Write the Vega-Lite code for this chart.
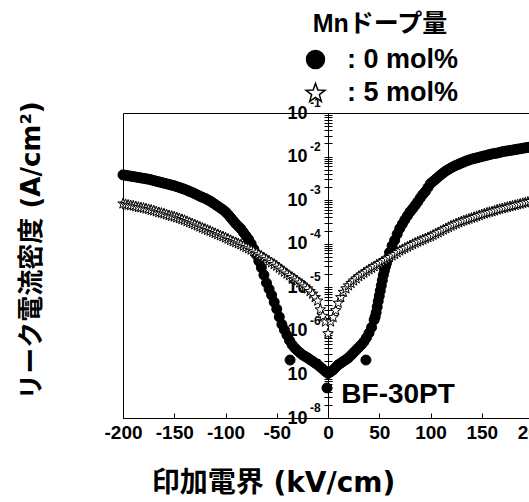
{
  "$schema": "https://vega.github.io/schema/vega-lite/v6.json",
  "width": 410,
  "height": 305,
  "autosize": "none",
  "padding": {"left": 123, "top": 113, "right": 0, "bottom": 84},
  "background": "white",
  "config": {"view": {"stroke": "black", "strokeWidth": 1}},
  "datasets": {
    "curves": [
      {"E": -200, "J": 3.80e-3, "dope": "0 mol%"}, {"E": -197.5, "J": 3.72e-3, "dope": "0 mol%"}, {"E": -195, "J": 3.63e-3, "dope": "0 mol%"}, {"E": -192.5, "J": 3.55e-3, "dope": "0 mol%"}, {"E": -190, "J": 3.47e-3, "dope": "0 mol%"}, {"E": -187.5, "J": 3.39e-3, "dope": "0 mol%"}, {"E": -185, "J": 3.31e-3, "dope": "0 mol%"}, {"E": -182.5, "J": 3.24e-3, "dope": "0 mol%"}, {"E": -180, "J": 3.16e-3, "dope": "0 mol%"}, {"E": -177.5, "J": 3.09e-3, "dope": "0 mol%"}, {"E": -175, "J": 3.02e-3, "dope": "0 mol%"}, {"E": -172.5, "J": 2.92e-3, "dope": "0 mol%"}, {"E": -170, "J": 2.82e-3, "dope": "0 mol%"}, {"E": -167.5, "J": 2.72e-3, "dope": "0 mol%"}, {"E": -165, "J": 2.63e-3, "dope": "0 mol%"}, {"E": -162.5, "J": 2.54e-3, "dope": "0 mol%"}, {"E": -160, "J": 2.45e-3, "dope": "0 mol%"}, {"E": -157.5, "J": 2.37e-3, "dope": "0 mol%"}, {"E": -155, "J": 2.29e-3, "dope": "0 mol%"}, {"E": -152.5, "J": 2.21e-3, "dope": "0 mol%"}, {"E": -150, "J": 2.14e-3, "dope": "0 mol%"}, {"E": -147.5, "J": 2.04e-3, "dope": "0 mol%"}, {"E": -145, "J": 1.95e-3, "dope": "0 mol%"}, {"E": -142.5, "J": 1.86e-3, "dope": "0 mol%"}, {"E": -140, "J": 1.78e-3, "dope": "0 mol%"}, {"E": -137.5, "J": 1.68e-3, "dope": "0 mol%"}, {"E": -135, "J": 1.58e-3, "dope": "0 mol%"}, {"E": -132.5, "J": 1.50e-3, "dope": "0 mol%"}, {"E": -130, "J": 1.41e-3, "dope": "0 mol%"}, {"E": -127.5, "J": 1.32e-3, "dope": "0 mol%"}, {"E": -125, "J": 1.23e-3, "dope": "0 mol%"}, {"E": -122.5, "J": 1.16e-3, "dope": "0 mol%"}, {"E": -120, "J": 1.10e-3, "dope": "0 mol%"}, {"E": -117.5, "J": 1.02e-3, "dope": "0 mol%"}, {"E": -115, "J": 9.55e-4, "dope": "0 mol%"}, {"E": -112.5, "J": 8.71e-4, "dope": "0 mol%"}, {"E": -110, "J": 7.94e-4, "dope": "0 mol%"}, {"E": -107.5, "J": 7.24e-4, "dope": "0 mol%"}, {"E": -105, "J": 6.61e-4, "dope": "0 mol%"}, {"E": -102.5, "J": 6.03e-4, "dope": "0 mol%"}, {"E": -100, "J": 5.37e-4, "dope": "0 mol%"}, {"E": -97.5, "J": 4.68e-4, "dope": "0 mol%"}, {"E": -95, "J": 3.98e-4, "dope": "0 mol%"}, {"E": -92.5, "J": 3.39e-4, "dope": "0 mol%"}, {"E": -90, "J": 2.88e-4, "dope": "0 mol%"}, {"E": -87.5, "J": 2.51e-4, "dope": "0 mol%"}, {"E": -85, "J": 2.19e-4, "dope": "0 mol%"}, {"E": -82.5, "J": 1.82e-4, "dope": "0 mol%"}, {"E": -80, "J": 1.51e-4, "dope": "0 mol%"}, {"E": -77.5, "J": 1.26e-4, "dope": "0 mol%"}, {"E": -75, "J": 1.00e-4, "dope": "0 mol%"}, {"E": -72.5, "J": 7.59e-5, "dope": "0 mol%"}, {"E": -70, "J": 5.62e-5, "dope": "0 mol%"}, {"E": -67.5, "J": 3.98e-5, "dope": "0 mol%"}, {"E": -65, "J": 2.82e-5, "dope": "0 mol%"}, {"E": -62.5, "J": 1.91e-5, "dope": "0 mol%"}, {"E": -60, "J": 1.26e-5, "dope": "0 mol%"}, {"E": -57.5, "J": 9.12e-6, "dope": "0 mol%"}, {"E": -55, "J": 6.61e-6, "dope": "0 mol%"}, {"E": -52.5, "J": 4.57e-6, "dope": "0 mol%"}, {"E": -50, "J": 3.16e-6, "dope": "0 mol%"}, {"E": -47.5, "J": 2.09e-6, "dope": "0 mol%"}, {"E": -45, "J": 1.41e-6, "dope": "0 mol%"}, {"E": -42.5, "J": 1.05e-6, "dope": "0 mol%"}, {"E": -40, "J": 7.94e-7, "dope": "0 mol%"}, {"E": -37.5, "J": 6.03e-7, "dope": "0 mol%"}, {"E": -35, "J": 4.79e-7, "dope": "0 mol%"}, {"E": -32.5, "J": 4.07e-7, "dope": "0 mol%"}, {"E": -30, "J": 3.55e-7, "dope": "0 mol%"}, {"E": -27.5, "J": 3.16e-7, "dope": "0 mol%"}, {"E": -25, "J": 2.82e-7, "dope": "0 mol%"}, {"E": -22.5, "J": 2.60e-7, "dope": "0 mol%"}, {"E": -20, "J": 2.40e-7, "dope": "0 mol%"}, {"E": -17.5, "J": 2.19e-7, "dope": "0 mol%"}, {"E": -15, "J": 2.00e-7, "dope": "0 mol%"}, {"E": -12.5, "J": 1.82e-7, "dope": "0 mol%"}, {"E": -10, "J": 1.66e-7, "dope": "0 mol%"}, {"E": -7.5, "J": 1.48e-7, "dope": "0 mol%"}, {"E": -5, "J": 1.32e-7, "dope": "0 mol%"}, {"E": -2.5, "J": 1.17e-7, "dope": "0 mol%"}, {"E": 0, "J": 1.05e-7, "dope": "0 mol%"}, {"E": 2.5, "J": 1.15e-7, "dope": "0 mol%"}, {"E": 5, "J": 1.26e-7, "dope": "0 mol%"}, {"E": 7.5, "J": 1.45e-7, "dope": "0 mol%"}, {"E": 10, "J": 1.66e-7, "dope": "0 mol%"}, {"E": 12.5, "J": 1.82e-7, "dope": "0 mol%"}, {"E": 15, "J": 2.00e-7, "dope": "0 mol%"}, {"E": 17.5, "J": 2.19e-7, "dope": "0 mol%"}, {"E": 20, "J": 2.40e-7, "dope": "0 mol%"}, {"E": 22.5, "J": 2.75e-7, "dope": "0 mol%"}, {"E": 25, "J": 3.16e-7, "dope": "0 mol%"}, {"E": 27.5, "J": 3.63e-7, "dope": "0 mol%"}, {"E": 30, "J": 4.17e-7, "dope": "0 mol%"}, {"E": 32.5, "J": 4.79e-7, "dope": "0 mol%"}, {"E": 35, "J": 5.62e-7, "dope": "0 mol%"}, {"E": 37.5, "J": 6.92e-7, "dope": "0 mol%"}, {"E": 40, "J": 8.91e-7, "dope": "0 mol%"}, {"E": 42.5, "J": 1.20e-6, "dope": "0 mol%"}, {"E": 45, "J": 1.78e-6, "dope": "0 mol%"}, {"E": 46, "J": 2.09e-6, "dope": "0 mol%"}, {"E": 47, "J": 2.63e-6, "dope": "0 mol%"}, {"E": 48, "J": 3.55e-6, "dope": "0 mol%"}, {"E": 49, "J": 4.79e-6, "dope": "0 mol%"}, {"E": 50, "J": 6.31e-6, "dope": "0 mol%"}, {"E": 51, "J": 8.32e-6, "dope": "0 mol%"}, {"E": 52, "J": 1.10e-5, "dope": "0 mol%"}, {"E": 53, "J": 1.45e-5, "dope": "0 mol%"}, {"E": 54, "J": 1.91e-5, "dope": "0 mol%"}, {"E": 55, "J": 2.40e-5, "dope": "0 mol%"}, {"E": 56, "J": 2.95e-5, "dope": "0 mol%"}, {"E": 57, "J": 3.55e-5, "dope": "0 mol%"}, {"E": 58, "J": 4.37e-5, "dope": "0 mol%"}, {"E": 60, "J": 6.31e-5, "dope": "0 mol%"}, {"E": 62.5, "J": 8.91e-5, "dope": "0 mol%"}, {"E": 65, "J": 1.20e-4, "dope": "0 mol%"}, {"E": 67.5, "J": 1.66e-4, "dope": "0 mol%"}, {"E": 70, "J": 2.24e-4, "dope": "0 mol%"}, {"E": 72.5, "J": 2.82e-4, "dope": "0 mol%"}, {"E": 75, "J": 3.55e-4, "dope": "0 mol%"}, {"E": 77.5, "J": 4.37e-4, "dope": "0 mol%"}, {"E": 80, "J": 5.37e-4, "dope": "0 mol%"}, {"E": 82.5, "J": 6.31e-4, "dope": "0 mol%"}, {"E": 85, "J": 7.59e-4, "dope": "0 mol%"}, {"E": 87.5, "J": 9.12e-4, "dope": "0 mol%"}, {"E": 90, "J": 1.12e-3, "dope": "0 mol%"}, {"E": 92.5, "J": 1.35e-3, "dope": "0 mol%"}, {"E": 95, "J": 1.58e-3, "dope": "0 mol%"}, {"E": 97.5, "J": 1.95e-3, "dope": "0 mol%"}, {"E": 100, "J": 2.40e-3, "dope": "0 mol%"}, {"E": 102.5, "J": 2.69e-3, "dope": "0 mol%"}, {"E": 105, "J": 3.02e-3, "dope": "0 mol%"}, {"E": 107.5, "J": 3.39e-3, "dope": "0 mol%"}, {"E": 110, "J": 3.80e-3, "dope": "0 mol%"}, {"E": 112.5, "J": 4.22e-3, "dope": "0 mol%"}, {"E": 115, "J": 4.68e-3, "dope": "0 mol%"}, {"E": 117.5, "J": 5.07e-3, "dope": "0 mol%"}, {"E": 120, "J": 5.50e-3, "dope": "0 mol%"}, {"E": 122.5, "J": 5.89e-3, "dope": "0 mol%"}, {"E": 125, "J": 6.31e-3, "dope": "0 mol%"}, {"E": 127.5, "J": 6.68e-3, "dope": "0 mol%"}, {"E": 130, "J": 7.08e-3, "dope": "0 mol%"}, {"E": 132.5, "J": 7.50e-3, "dope": "0 mol%"}, {"E": 135, "J": 7.94e-3, "dope": "0 mol%"}, {"E": 137.5, "J": 8.32e-3, "dope": "0 mol%"}, {"E": 140, "J": 8.71e-3, "dope": "0 mol%"}, {"E": 142.5, "J": 9.02e-3, "dope": "0 mol%"}, {"E": 145, "J": 9.33e-3, "dope": "0 mol%"}, {"E": 147.5, "J": 9.66e-3, "dope": "0 mol%"}, {"E": 150, "J": 1.00e-2, "dope": "0 mol%"}, {"E": 152.5, "J": 1.035e-2, "dope": "0 mol%"}, {"E": 155, "J": 1.07e-2, "dope": "0 mol%"}, {"E": 157.5, "J": 1.11e-2, "dope": "0 mol%"}, {"E": 160, "J": 1.15e-2, "dope": "0 mol%"}, {"E": 162.5, "J": 1.175e-2, "dope": "0 mol%"}, {"E": 165, "J": 1.20e-2, "dope": "0 mol%"}, {"E": 167.5, "J": 1.245e-2, "dope": "0 mol%"}, {"E": 170, "J": 1.29e-2, "dope": "0 mol%"}, {"E": 172.5, "J": 1.32e-2, "dope": "0 mol%"}, {"E": 175, "J": 1.35e-2, "dope": "0 mol%"}, {"E": 177.5, "J": 1.38e-2, "dope": "0 mol%"}, {"E": 180, "J": 1.41e-2, "dope": "0 mol%"}, {"E": 182.5, "J": 1.445e-2, "dope": "0 mol%"}, {"E": 185, "J": 1.48e-2, "dope": "0 mol%"}, {"E": 187.5, "J": 1.51e-2, "dope": "0 mol%"}, {"E": 190, "J": 1.55e-2, "dope": "0 mol%"}, {"E": 192.5, "J": 1.585e-2, "dope": "0 mol%"}, {"E": 195, "J": 1.62e-2, "dope": "0 mol%"}, {"E": 197.5, "J": 1.66e-2, "dope": "0 mol%"}, {"E": 200, "J": 1.70e-2, "dope": "0 mol%"},
      {"E": -37, "J": 2.14e-7, "dope": "0 mol%"}, {"E": 37, "J": 2.14e-7, "dope": "0 mol%"}, {"E": -1, "J": 4.9e-8, "dope": "0 mol%"},
      {"E": -200, "J": 8.51e-4, "dope": "5 mol%"}, {"E": -197.5, "J": 8.22e-4, "dope": "5 mol%"}, {"E": -195, "J": 7.94e-4, "dope": "5 mol%"}, {"E": -192.5, "J": 7.76e-4, "dope": "5 mol%"}, {"E": -190, "J": 7.59e-4, "dope": "5 mol%"}, {"E": -187.5, "J": 7.33e-4, "dope": "5 mol%"}, {"E": -185, "J": 7.08e-4, "dope": "5 mol%"}, {"E": -182.5, "J": 6.92e-4, "dope": "5 mol%"}, {"E": -180, "J": 6.76e-4, "dope": "5 mol%"}, {"E": -177.5, "J": 6.53e-4, "dope": "5 mol%"}, {"E": -175, "J": 6.31e-4, "dope": "5 mol%"}, {"E": -172.5, "J": 6.10e-4, "dope": "5 mol%"}, {"E": -170, "J": 5.89e-4, "dope": "5 mol%"}, {"E": -167.5, "J": 5.62e-4, "dope": "5 mol%"}, {"E": -165, "J": 5.37e-4, "dope": "5 mol%"}, {"E": -162.5, "J": 5.19e-4, "dope": "5 mol%"}, {"E": -160, "J": 5.01e-4, "dope": "5 mol%"}, {"E": -157.5, "J": 4.79e-4, "dope": "5 mol%"}, {"E": -155, "J": 4.57e-4, "dope": "5 mol%"}, {"E": -152.5, "J": 4.42e-4, "dope": "5 mol%"}, {"E": -150, "J": 4.27e-4, "dope": "5 mol%"}, {"E": -147.5, "J": 4.07e-4, "dope": "5 mol%"}, {"E": -145, "J": 3.89e-4, "dope": "5 mol%"}, {"E": -142.5, "J": 3.72e-4, "dope": "5 mol%"}, {"E": -140, "J": 3.55e-4, "dope": "5 mol%"}, {"E": -137.5, "J": 3.35e-4, "dope": "5 mol%"}, {"E": -135, "J": 3.16e-4, "dope": "5 mol%"}, {"E": -132.5, "J": 2.99e-4, "dope": "5 mol%"}, {"E": -130, "J": 2.82e-4, "dope": "5 mol%"}, {"E": -127.5, "J": 2.66e-4, "dope": "5 mol%"}, {"E": -125, "J": 2.51e-4, "dope": "5 mol%"}, {"E": -122.5, "J": 2.37e-4, "dope": "5 mol%"}, {"E": -120, "J": 2.24e-4, "dope": "5 mol%"}, {"E": -117.5, "J": 2.11e-4, "dope": "5 mol%"}, {"E": -115, "J": 2.00e-4, "dope": "5 mol%"}, {"E": -112.5, "J": 1.88e-4, "dope": "5 mol%"}, {"E": -110, "J": 1.78e-4, "dope": "5 mol%"}, {"E": -107.5, "J": 1.68e-4, "dope": "5 mol%"}, {"E": -105, "J": 1.58e-4, "dope": "5 mol%"}, {"E": -102.5, "J": 1.50e-4, "dope": "5 mol%"}, {"E": -100, "J": 1.41e-4, "dope": "5 mol%"}, {"E": -97.5, "J": 1.32e-4, "dope": "5 mol%"}, {"E": -95, "J": 1.23e-4, "dope": "5 mol%"}, {"E": -92.5, "J": 1.16e-4, "dope": "5 mol%"}, {"E": -90, "J": 1.10e-4, "dope": "5 mol%"}, {"E": -87.5, "J": 1.035e-4, "dope": "5 mol%"}, {"E": -85, "J": 9.77e-5, "dope": "5 mol%"}, {"E": -82.5, "J": 9.12e-5, "dope": "5 mol%"}, {"E": -80, "J": 8.51e-5, "dope": "5 mol%"}, {"E": -77.5, "J": 7.94e-5, "dope": "5 mol%"}, {"E": -75, "J": 7.41e-5, "dope": "5 mol%"}, {"E": -72.5, "J": 6.84e-5, "dope": "5 mol%"}, {"E": -70, "J": 6.31e-5, "dope": "5 mol%"}, {"E": -67.5, "J": 5.82e-5, "dope": "5 mol%"}, {"E": -65, "J": 5.37e-5, "dope": "5 mol%"}, {"E": -62.5, "J": 4.90e-5, "dope": "5 mol%"}, {"E": -60, "J": 4.47e-5, "dope": "5 mol%"}, {"E": -57.5, "J": 4.12e-5, "dope": "5 mol%"}, {"E": -55, "J": 3.80e-5, "dope": "5 mol%"}, {"E": -52.5, "J": 3.47e-5, "dope": "5 mol%"}, {"E": -50, "J": 3.16e-5, "dope": "5 mol%"}, {"E": -47.5, "J": 2.85e-5, "dope": "5 mol%"}, {"E": -45, "J": 2.57e-5, "dope": "5 mol%"}, {"E": -42.5, "J": 2.32e-5, "dope": "5 mol%"}, {"E": -40, "J": 2.09e-5, "dope": "5 mol%"}, {"E": -37.5, "J": 1.91e-5, "dope": "5 mol%"}, {"E": -35, "J": 1.74e-5, "dope": "5 mol%"}, {"E": -32.5, "J": 1.585e-5, "dope": "5 mol%"}, {"E": -30, "J": 1.45e-5, "dope": "5 mol%"}, {"E": -27.5, "J": 1.30e-5, "dope": "5 mol%"}, {"E": -25, "J": 1.17e-5, "dope": "5 mol%"}, {"E": -22.5, "J": 1.06e-5, "dope": "5 mol%"}, {"E": -20, "J": 9.55e-6, "dope": "5 mol%"}, {"E": -17.5, "J": 8.32e-6, "dope": "5 mol%"}, {"E": -15, "J": 7.24e-6, "dope": "5 mol%"}, {"E": -12.5, "J": 6.03e-6, "dope": "5 mol%"}, {"E": -10, "J": 5.01e-6, "dope": "5 mol%"}, {"E": -7.5, "J": 3.16e-6, "dope": "5 mol%"}, {"E": -5, "J": 2.24e-6, "dope": "5 mol%"}, {"E": -2.5, "J": 1.66e-6, "dope": "5 mol%"}, {"E": 0, "J": 8.91e-7, "dope": "5 mol%"}, {"E": 2.5, "J": 1.66e-6, "dope": "5 mol%"}, {"E": 5, "J": 2.09e-6, "dope": "5 mol%"}, {"E": 7.5, "J": 3.02e-6, "dope": "5 mol%"}, {"E": 10, "J": 4.47e-6, "dope": "5 mol%"}, {"E": 12.5, "J": 6.03e-6, "dope": "5 mol%"}, {"E": 15, "J": 7.94e-6, "dope": "5 mol%"}, {"E": 17.5, "J": 9.55e-6, "dope": "5 mol%"}, {"E": 20, "J": 1.12e-5, "dope": "5 mol%"}, {"E": 22.5, "J": 1.27e-5, "dope": "5 mol%"}, {"E": 25, "J": 1.45e-5, "dope": "5 mol%"}, {"E": 27.5, "J": 1.62e-5, "dope": "5 mol%"}, {"E": 30, "J": 1.82e-5, "dope": "5 mol%"}, {"E": 32.5, "J": 2.00e-5, "dope": "5 mol%"}, {"E": 35, "J": 2.19e-5, "dope": "5 mol%"}, {"E": 37.5, "J": 2.40e-5, "dope": "5 mol%"}, {"E": 40, "J": 2.63e-5, "dope": "5 mol%"}, {"E": 42.5, "J": 2.85e-5, "dope": "5 mol%"}, {"E": 45, "J": 3.09e-5, "dope": "5 mol%"}, {"E": 47.5, "J": 3.35e-5, "dope": "5 mol%"}, {"E": 50, "J": 3.63e-5, "dope": "5 mol%"}, {"E": 52.5, "J": 3.94e-5, "dope": "5 mol%"}, {"E": 55, "J": 4.27e-5, "dope": "5 mol%"}, {"E": 57.5, "J": 4.62e-5, "dope": "5 mol%"}, {"E": 60, "J": 5.01e-5, "dope": "5 mol%"}, {"E": 62.5, "J": 5.43e-5, "dope": "5 mol%"}, {"E": 65, "J": 5.89e-5, "dope": "5 mol%"}, {"E": 67.5, "J": 6.46e-5, "dope": "5 mol%"}, {"E": 70, "J": 7.08e-5, "dope": "5 mol%"}, {"E": 72.5, "J": 7.59e-5, "dope": "5 mol%"}, {"E": 75, "J": 8.13e-5, "dope": "5 mol%"}, {"E": 77.5, "J": 8.71e-5, "dope": "5 mol%"}, {"E": 80, "J": 9.33e-5, "dope": "5 mol%"}, {"E": 82.5, "J": 1.00e-4, "dope": "5 mol%"}, {"E": 85, "J": 1.07e-4, "dope": "5 mol%"}, {"E": 87.5, "J": 1.135e-4, "dope": "5 mol%"}, {"E": 90, "J": 1.20e-4, "dope": "5 mol%"}, {"E": 92.5, "J": 1.27e-4, "dope": "5 mol%"}, {"E": 95, "J": 1.35e-4, "dope": "5 mol%"}, {"E": 97.5, "J": 1.43e-4, "dope": "5 mol%"}, {"E": 100, "J": 1.51e-4, "dope": "5 mol%"}, {"E": 102.5, "J": 1.62e-4, "dope": "5 mol%"}, {"E": 105, "J": 1.74e-4, "dope": "5 mol%"}, {"E": 107.5, "J": 1.86e-4, "dope": "5 mol%"}, {"E": 110, "J": 2.00e-4, "dope": "5 mol%"}, {"E": 112.5, "J": 2.14e-4, "dope": "5 mol%"}, {"E": 115, "J": 2.29e-4, "dope": "5 mol%"}, {"E": 117.5, "J": 2.45e-4, "dope": "5 mol%"}, {"E": 120, "J": 2.63e-4, "dope": "5 mol%"}, {"E": 122.5, "J": 2.79e-4, "dope": "5 mol%"}, {"E": 125, "J": 2.95e-4, "dope": "5 mol%"}, {"E": 127.5, "J": 3.13e-4, "dope": "5 mol%"}, {"E": 130, "J": 3.31e-4, "dope": "5 mol%"}, {"E": 132.5, "J": 3.47e-4, "dope": "5 mol%"}, {"E": 135, "J": 3.63e-4, "dope": "5 mol%"}, {"E": 137.5, "J": 3.80e-4, "dope": "5 mol%"}, {"E": 140, "J": 3.98e-4, "dope": "5 mol%"}, {"E": 142.5, "J": 4.17e-4, "dope": "5 mol%"}, {"E": 145, "J": 4.37e-4, "dope": "5 mol%"}, {"E": 147.5, "J": 4.57e-4, "dope": "5 mol%"}, {"E": 150, "J": 4.79e-4, "dope": "5 mol%"}, {"E": 152.5, "J": 5.01e-4, "dope": "5 mol%"}, {"E": 155, "J": 5.25e-4, "dope": "5 mol%"}, {"E": 157.5, "J": 5.43e-4, "dope": "5 mol%"}, {"E": 160, "J": 5.62e-4, "dope": "5 mol%"}, {"E": 162.5, "J": 5.89e-4, "dope": "5 mol%"}, {"E": 165, "J": 6.17e-4, "dope": "5 mol%"}, {"E": 167.5, "J": 6.38e-4, "dope": "5 mol%"}, {"E": 170, "J": 6.61e-4, "dope": "5 mol%"}, {"E": 172.5, "J": 6.84e-4, "dope": "5 mol%"}, {"E": 175, "J": 7.08e-4, "dope": "5 mol%"}, {"E": 177.5, "J": 7.33e-4, "dope": "5 mol%"}, {"E": 180, "J": 7.59e-4, "dope": "5 mol%"}, {"E": 182.5, "J": 7.85e-4, "dope": "5 mol%"}, {"E": 185, "J": 8.13e-4, "dope": "5 mol%"}, {"E": 187.5, "J": 8.41e-4, "dope": "5 mol%"}, {"E": 190, "J": 8.71e-4, "dope": "5 mol%"}, {"E": 192.5, "J": 9.02e-4, "dope": "5 mol%"}, {"E": 195, "J": 9.33e-4, "dope": "5 mol%"}, {"E": 197.5, "J": 9.66e-4, "dope": "5 mol%"}, {"E": 200, "J": 1.00e-3, "dope": "5 mol%"}
    ],
    "exps": [
      {"J": 0.1, "e": "-1"}, {"J": 0.01, "e": "-2"}, {"J": 0.001, "e": "-3"}, {"J": 0.0001, "e": "-4"},
      {"J": 0.00001, "e": "-5"}, {"J": 0.000001, "e": "-6"}, {"J": 0.0000001, "e": "-7"}, {"J": 0.00000001, "e": "-8"}
    ],
    "note": [{"E": 13, "J": 3.4e-8, "t": "BF-30PT"}]
  },
  "resolve": {"axis": {"y": "independent"}},
  "layer": [
    {
      "data": {"name": "curves"},
      "mark": {"type": "point", "filled": false, "stroke": "black", "strokeWidth": 1, "opacity": 1, "size": 100},
      "encoding": {
        "x": {
          "field": "E", "type": "quantitative",
          "scale": {"domain": [-200, 200], "nice": false, "zero": false},
          "axis": {
            "values": [-200, -150, -100, -50, 0, 50, 100, 150, 200], "labelExpr": "datum.value + ''",
            "grid": false, "domainColor": "black", "tickColor": "black", "tickSize": -5,
            "labelFont": "Liberation Sans", "labelFontSize": 19, "labelFontWeight": "bold", "labelColor": "black",
            "labelPadding": 10, "labelFlush": false, "labelOverlap": false,
            "title": "印加電界 (kV/cm)", "titleFont": "DejaVu Sans, Noto Sans CJK JP", "titleFontSize": 28,
            "titleFontWeight": "bold", "titleColor": "black", "titleX": 150, "titleY": 65,
            "titleAlign": "center", "titleBaseline": "middle"
          }
        },
        "y": {
          "field": "J", "type": "quantitative",
          "scale": {"type": "log", "domain": [1e-8, 0.1], "nice": false},
          "axis": {
            "orient": "left", "offset": -205, "tickCount": 70, "grid": false,
            "domainColor": "black", "tickColor": "black", "tickSize": 4,
            "labelExpr": "abs(log(datum.value)/LN10 - round(log(datum.value)/LN10)) < 0.001 ? '10' : ''",
            "labelFont": "Liberation Sans", "labelFontSize": 18, "labelFontWeight": "bold", "labelColor": "black",
            "labelPadding": 17, "labelOverlap": false, "labelBound": false, "labelFlush": false,
            "title": "リーク電流密度 (A/cm²)", "titleFont": "DejaVu Sans, Noto Sans CJK JP", "titleFontSize": 26,
            "titleFontWeight": "bold", "titleColor": "black", "titleX": -297, "titleY": 137,
            "titleAngle": -90, "titleAlign": "center", "titleBaseline": "middle"
          }
        },
        "shape": {
          "field": "dope", "type": "nominal",
          "scale": {"domain": ["0 mol%", "5 mol%"], "range": ["circle", "M0,-1L0.2645,-0.264L1.046,-0.24L0.428,0.239L0.647,0.99L0,0.55L-0.647,0.99L-0.428,0.239L-1.046,-0.24L-0.2645,-0.264Z"]},
          "legend": {
            "title": "Mnドープ量", "orient": "none", "legendX": 179, "legendY": -101, "direction": "vertical",
            "labelExpr": "': ' + datum.label", "symbolSize": 324, "symbolStrokeWidth": 1.5,
            "labelFont": "Liberation Sans", "labelFontSize": 27, "labelFontWeight": "bold", "labelColor": "black",
            "labelOffset": 18, "labelLimit": 300,
            "titleFont": "Liberation Sans, Noto Sans CJK JP", "titleFontSize": 25, "titleFontWeight": "bold", "titleColor": "black",
            "titleAnchor": "middle", "titleAlign": "center", "titlePadding": 9, "rowPadding": 5, "padding": 0,
            "encoding": {"symbols": {"update": {"stroke": {"value": "black"}, "strokeWidth": {"value": 1.5}}}}
          }
        },
        "fill": {
          "field": "dope", "type": "nominal",
          "scale": {"domain": ["0 mol%", "5 mol%"], "range": ["black", "white"]},
          "legend": {
            "title": "Mnドープ量", "orient": "none", "legendX": 179, "legendY": -101, "direction": "vertical",
            "labelExpr": "': ' + datum.label", "symbolSize": 324, "symbolStrokeWidth": 1.5,
            "labelFont": "Liberation Sans", "labelFontSize": 27, "labelFontWeight": "bold", "labelColor": "black",
            "labelOffset": 18, "labelLimit": 300,
            "titleFont": "Liberation Sans, Noto Sans CJK JP", "titleFontSize": 25, "titleFontWeight": "bold", "titleColor": "black",
            "titleAnchor": "middle", "titleAlign": "center", "titlePadding": 9, "rowPadding": 5, "padding": 0,
            "encoding": {"symbols": {"update": {"stroke": {"value": "black"}, "strokeWidth": {"value": 1.5}}}}
          }
        }
      }
    },
    {
      "data": {"name": "exps"},
      "mark": {"type": "text", "align": "left", "baseline": "middle", "dx": -18, "dy": -10, "fontSize": 12, "fontWeight": "bold", "font": "Liberation Sans", "color": "black"},
      "encoding": {
        "x": {
          "datum": 0, "type": "quantitative",
          "scale": {"domain": [-200, 200], "nice": false, "zero": false},
          "axis": {
            "values": [-200, -150, -100, -50, 0, 50, 100, 150, 200], "labelExpr": "datum.value + ''",
            "grid": false, "domainColor": "black", "tickColor": "black", "tickSize": -5,
            "labelFont": "Liberation Sans", "labelFontSize": 19, "labelFontWeight": "bold", "labelColor": "black",
            "labelPadding": 10, "labelFlush": false, "labelOverlap": false,
            "title": "印加電界 (kV/cm)", "titleFont": "DejaVu Sans, Noto Sans CJK JP", "titleFontSize": 28,
            "titleFontWeight": "bold", "titleColor": "black", "titleX": 150, "titleY": 65,
            "titleAlign": "center", "titleBaseline": "middle"
          }
        },
        "y": {
          "field": "J", "type": "quantitative",
          "scale": {"type": "log", "domain": [1e-8, 0.1], "nice": false},
          "axis": {"orient": "right", "offset": -205, "tickCount": 70, "grid": false, "labels": false, "domain": false, "tickSize": 4, "tickColor": "black", "title": null}
        },
        "text": {"field": "e"}
      }
    },
    {
      "data": {"name": "note"},
      "mark": {"type": "text", "align": "left", "baseline": "middle", "fontSize": 28, "fontWeight": "bold", "font": "Liberation Sans", "color": "black"},
      "encoding": {
        "x": {
          "field": "E", "type": "quantitative",
          "scale": {"domain": [-200, 200], "nice": false, "zero": false},
          "axis": {
            "values": [-200, -150, -100, -50, 0, 50, 100, 150, 200], "labelExpr": "datum.value + ''",
            "grid": false, "domainColor": "black", "tickColor": "black", "tickSize": -5,
            "labelFont": "Liberation Sans", "labelFontSize": 19, "labelFontWeight": "bold", "labelColor": "black",
            "labelPadding": 10, "labelFlush": false, "labelOverlap": false,
            "title": "印加電界 (kV/cm)", "titleFont": "DejaVu Sans, Noto Sans CJK JP", "titleFontSize": 28,
            "titleFontWeight": "bold", "titleColor": "black", "titleX": 150, "titleY": 65,
            "titleAlign": "center", "titleBaseline": "middle"
          }
        },
        "y": {"field": "J", "type": "quantitative", "scale": {"type": "log", "domain": [1e-8, 0.1], "nice": false}, "axis": null},
        "text": {"field": "t"}
      }
    }
  ]
}
